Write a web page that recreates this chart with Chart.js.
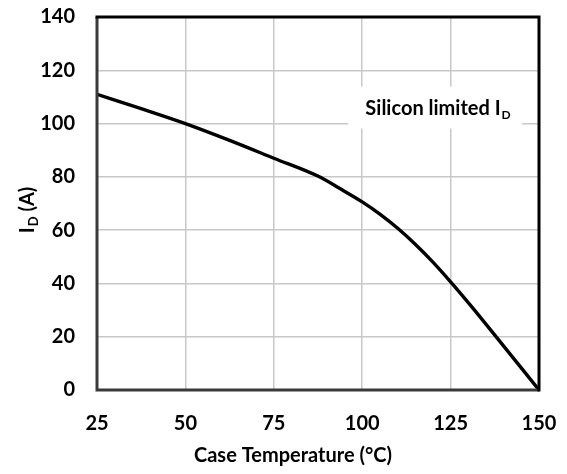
<!DOCTYPE html>
<html>
<head>
<meta charset="utf-8">
<script src="https://cdn.jsdelivr.net/npm/chart.js@4.4.0/dist/chart.umd.min.js"></script>
<style>
  html, body { margin: 0; padding: 0; background: #ffffff; }
  #wrap { width: 567px; height: 474px; position: relative; }
</style>
</head>
<body>
<div id="wrap"><canvas id="c" width="567" height="474"></canvas></div>
<script>
// Data
const caseTemperature = [25, 37.5, 50, 62.5, 75, 87.6, 93.7, 100, 105, 110.2, 115, 120, 125, 131, 137.5, 150];
const drainCurrent    = [111, 105.6, 100, 93.7, 87, 80.2, 75.6, 70.6, 66, 60.5, 54.7, 48, 40.6, 31.2, 20.6, 0];
const xTickValues = [25, 50, 75, 100, 125, 150];
const yTickValues = [0, 20, 40, 60, 80, 100, 120, 140];
const xAxisTitle = 'Case Temperature (°C)';
const yAxisTitleMain = 'I';
const yAxisTitleSub = 'D';
const yAxisTitleRest = ' (A)';
const noteMain = 'Silicon limited I';
const noteSub = 'D';
const notePos = { x: 120.6, y: 106 };

const FONT = "Lato, 'Open Sans', sans-serif";

const points = caseTemperature.map((t, i) => ({ x: t, y: drainCurrent[i] }));

const decorPlugin = {
  id: 'decor',
  beforeDatasetsDraw(chart) {
    const { ctx, scales } = chart;
    const cx = scales.x.getPixelForValue(notePos.x);
    const cy = scales.y.getPixelForValue(notePos.y);
    ctx.save();
    ctx.font = "bold 20px " + FONT;
    const wMain = ctx.measureText(noteMain).width;
    ctx.font = "bold 12px " + FONT;
    const wSub = ctx.measureText(noteSub).width;
    const total = wMain + wSub + 1;
    ctx.fillStyle = '#ffffff';
    ctx.fillRect(cx - 87, cy - 21, 174, 42);
    ctx.fillStyle = '#000000';
    ctx.textBaseline = 'alphabetic';
    ctx.textAlign = 'left';
    ctx.font = "bold 20px " + FONT;
    const x0 = cx - total / 2 + 3;
    const base = cy + 7;
    ctx.fillText(noteMain, x0, base);
    ctx.font = "bold 12px " + FONT;
    ctx.fillText(noteSub, x0 + wMain + 1, base + 4);
    ctx.restore();
  },
  afterDatasetsDraw(chart) {
    const { ctx, chartArea: a } = chart;
    ctx.save();
    ctx.lineWidth = 3;
    ctx.strokeStyle = '#3a3a3a';
    ctx.beginPath();
    ctx.moveTo(a.left, a.top);
    ctx.lineTo(a.left, a.bottom);
    ctx.lineTo(a.right, a.bottom);
    ctx.stroke();
    ctx.strokeStyle = '#000000';
    ctx.beginPath();
    ctx.moveTo(a.left - 1.5, a.top);
    ctx.lineTo(a.right, a.top);
    ctx.lineTo(a.right, a.bottom + 1.5);
    ctx.stroke();
    ctx.restore();
  },
  afterDraw(chart) {
    const { ctx } = chart;
    ctx.save();
    ctx.fillStyle = '#000000';
    ctx.font = "bold 20px " + FONT;
    ctx.textAlign = 'center';
    ctx.textBaseline = 'middle';
    ctx.fillText(xAxisTitle, 293, 456);
    ctx.translate(27, 210);
    ctx.rotate(-Math.PI / 2);
    ctx.font = "bold 20px " + FONT;
    const w1 = ctx.measureText(yAxisTitleMain).width;
    const w3 = ctx.measureText(yAxisTitleRest).width;
    ctx.font = "bold 13px " + FONT;
    const w2 = ctx.measureText(yAxisTitleSub).width;
    const tot = w1 + w2 + w3 + 1;
    let x = -tot / 2;
    ctx.textAlign = 'left';
    ctx.textBaseline = 'alphabetic';
    ctx.font = "bold 20px " + FONT;
    ctx.fillText(yAxisTitleMain, x, 7);
    x += w1 + 1;
    ctx.font = "bold 13px " + FONT;
    ctx.fillText(yAxisTitleSub, x, 11);
    x += w2;
    ctx.font = "bold 20px " + FONT;
    ctx.fillText(yAxisTitleRest, x, 7);
    ctx.restore();
  }
};

new Chart(document.getElementById('c'), {
  type: 'line',
  data: {
    datasets: [{
      data: points,
      borderColor: '#000000',
      borderWidth: 3.4,
      pointRadius: 0,
      fill: false,
      cubicInterpolationMode: 'monotone'
    }]
  },
  options: {
    responsive: false,
    animation: false,
    devicePixelRatio: 1,
    layout: { padding: { top: 17, right: 28, left: 0, bottom: 0 } },
    plugins: { legend: { display: false }, tooltip: { enabled: false } },
    scales: {
      x: {
        type: 'linear',
        min: 25, max: 150,
        afterBuildTicks(scale) { scale.ticks = xTickValues.map(v => ({ value: v })); },
        afterFit(scale) { scale.height = 84; },
        grid: { color: '#c8c8c8', lineWidth: 1.5, drawTicks: true, tickLength: 22, tickColor: 'rgba(0,0,0,0)' },
        border: { display: false },
        ticks: {
          color: '#000000',
          padding: 0,
          maxRotation: 0,
          font: { family: FONT, size: 20, weight: 'bold' }
        }
      },
      y: {
        type: 'linear',
        min: 0, max: 140,
        afterBuildTicks(scale) { scale.ticks = yTickValues.map(v => ({ value: v })); },
        afterFit(scale) { scale.width = 97; },
        grid: { color: '#c8c8c8', lineWidth: 1.5, drawTicks: true, tickLength: 22, tickColor: 'rgba(0,0,0,0)' },
        border: { display: false },
        ticks: {
          color: '#000000',
          padding: 0,
          font: { family: FONT, size: 20, weight: 'bold' }
        }
      }
    }
  },
  plugins: [decorPlugin]
});
</script>
</body>
</html>
